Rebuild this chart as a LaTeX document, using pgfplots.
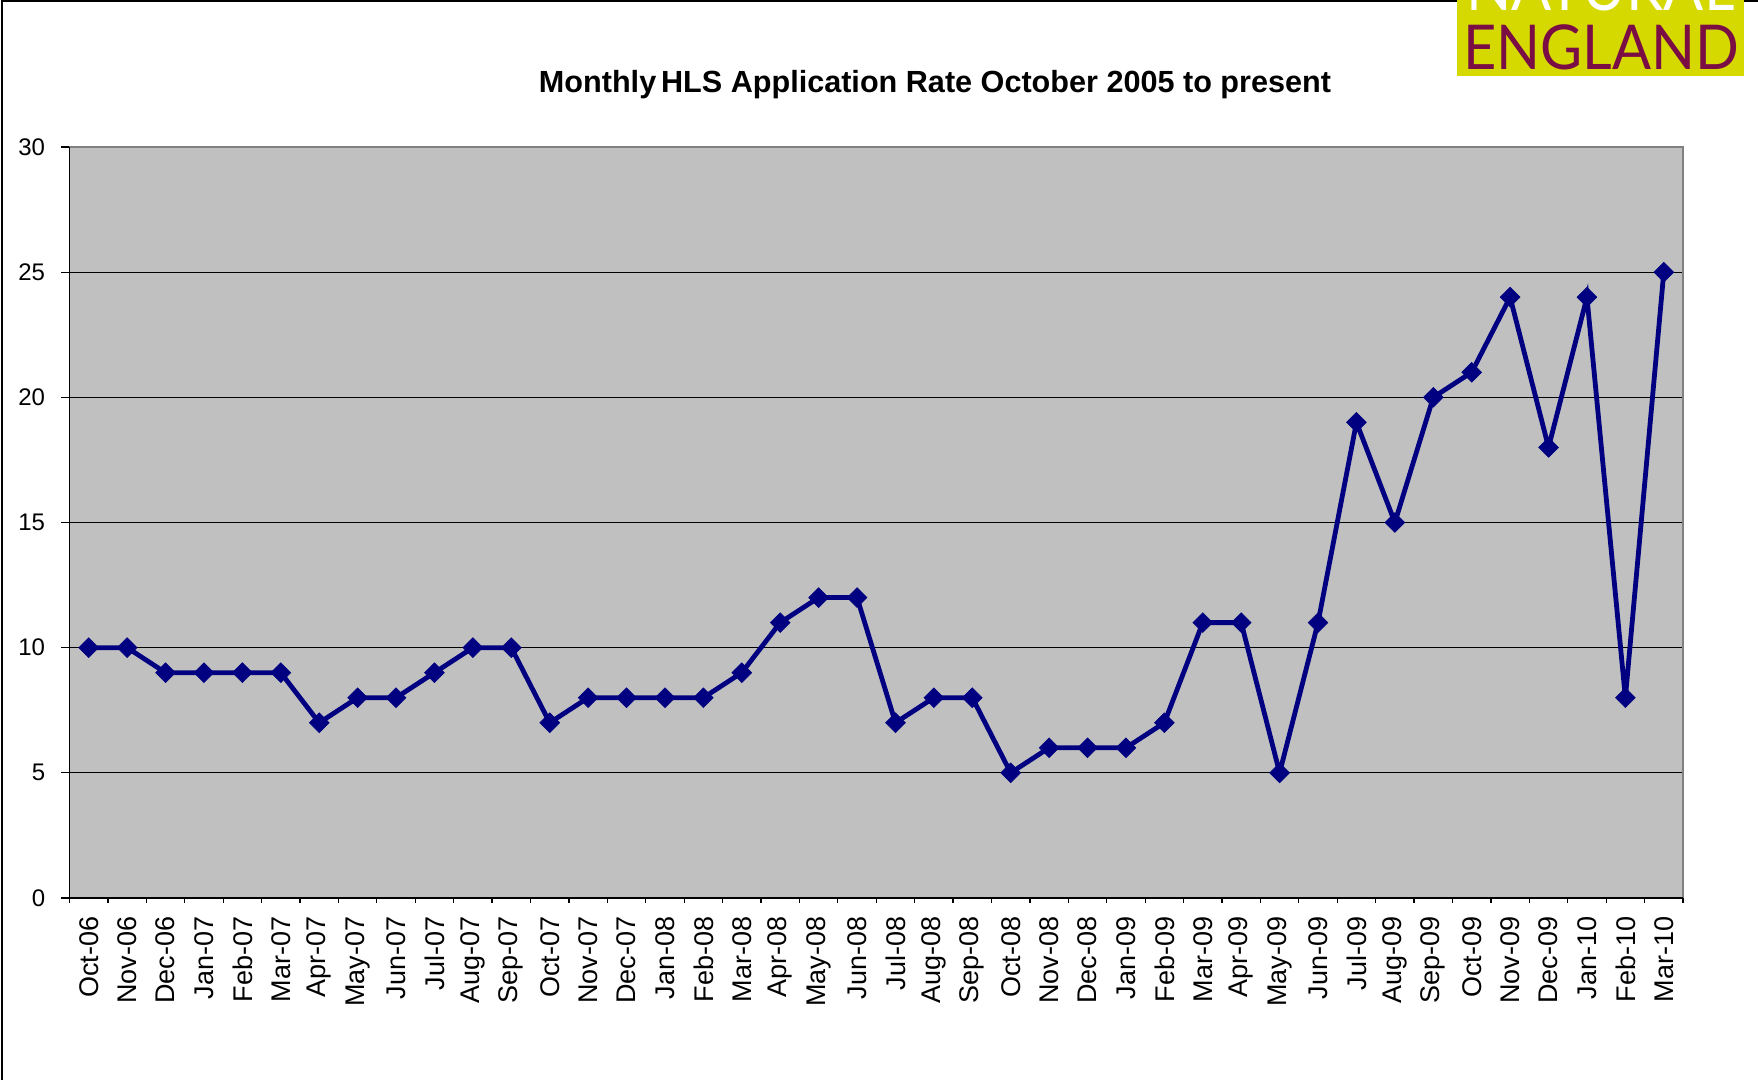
\documentclass[border=0pt]{standalone}
\usepackage{pgfplots}
\pgfplotsset{compat=1.18}
\usepackage{graphicx}
\usepackage{fontspec}
\setmainfont{Liberation Sans}
\newfontfamily\logofont{Lato}
\definecolor{bgray}{RGB}{192,192,192}
\definecolor{bordergray}{RGB}{128,128,128}
\definecolor{navy}{RGB}{0,0,128}
\definecolor{logoyellow}{RGB}{214,217,0}
\definecolor{logomaroon}{RGB}{122,14,68}
\pgfplotstableread{
x y
0 10
1 10
2 9
3 9
4 9
5 9
6 7
7 8
8 8
9 9
10 10
11 10
12 7
13 8
14 8
15 8
16 8
17 9
18 11
19 12
20 12
21 7
22 8
23 8
24 5
25 6
26 6
27 6
28 7
29 11
30 11
31 5
32 11
33 19
34 15
35 20
36 21
37 24
38 18
39 24
40 8
41 25
}\datatable
\begin{document}
\begin{tikzpicture}
\useasboundingbox (0,0) rectangle (879pt,540pt);
\begin{scope}
\clip (0,0) rectangle (879pt,540pt);
% outer chart frame
\draw[black, line width=1pt] (1.2pt,0) -- (1.2pt,539.4pt) -- (879pt,539.4pt);
\begin{axis}[
  at={(34.75pt,91pt)}, anchor=south west,
  width=806.75pt, height=375.5pt, scale only axis,
  xmin=-0.5, xmax=41.5, ymin=0, ymax=30,
  axis background/.style={fill=bgray},
  axis line style={draw=none},
  tick pos=left,
  tick align=outside,
  xtick={0,...,41},
  xticklabels={Oct-06,Nov-06,Dec-06,Jan-07,Feb-07,Mar-07,Apr-07,May-07,Jun-07,Jul-07,Aug-07,Sep-07,Oct-07,Nov-07,Dec-07,Jan-08,Feb-08,Mar-08,Apr-08,May-08,Jun-08,Jul-08,Aug-08,Sep-08,Oct-08,Nov-08,Dec-08,Jan-09,Feb-09,Mar-09,Apr-09,May-09,Jun-09,Jul-09,Aug-09,Sep-09,Oct-09,Nov-09,Dec-09,Jan-10,Feb-10,Mar-10},
  minor xtick={-0.5,0.5,...,41.5},
  every major x tick/.style={draw=none},
  every minor x tick/.style={black, line width=0.6pt},
  minor tick length=2.5pt,
  ytick={0,5,...,30},
  every major y tick/.style={black, line width=0.6pt},
  major tick length=4pt,
  ymajorgrids,
  major grid style={black, line width=0.6pt},
  xticklabel style={rotate=90, anchor=east, font=\fontsize{13.5}{15}\selectfont, inner sep=0pt},
  xticklabel shift={5.2pt},
  yticklabel style={font=\fontsize{12}{14}\selectfont, inner sep=0pt, xshift=-8pt},
  /pgf/number format/assume math mode=true,
  clip=false,
]
\addplot[navy, line width=2.4pt, mark=square*, mark size=3.5pt, mark options={rotate=45, solid, fill=navy, line width=0.3pt}] table[x=x,y=y] {\datatable};
\draw[bordergray, line width=1.1pt] (rel axis cs:0,1) -- (rel axis cs:1,1) -- (rel axis cs:1,0);
\draw[black, line width=0.8pt] (rel axis cs:0,1) -- (rel axis cs:0,0) -- (rel axis cs:1,0);
\end{axis}
% title
\node[anchor=base, font=\bfseries\fontsize{15.3}{18}\selectfont, inner sep=0pt] at (467.5pt,493.5pt) {Monthly\hspace{-0.12em} HLS Application Rate October 2005 to present};
% logo
\fill[logoyellow] (728.5pt,502pt) rectangle (872pt,545pt);
\node[anchor=base west, inner sep=0pt, text=logomaroon] at (731.5pt,505.25pt) {\resizebox{138pt}{22.4pt}{\logofont ENGLAND}};
\node[anchor=base west, inner sep=0pt, text=white] at (733pt,534.5pt) {\resizebox{134pt}{22.4pt}{\logofont NATURAL}};
\end{scope}
\end{tikzpicture}
\end{document}
